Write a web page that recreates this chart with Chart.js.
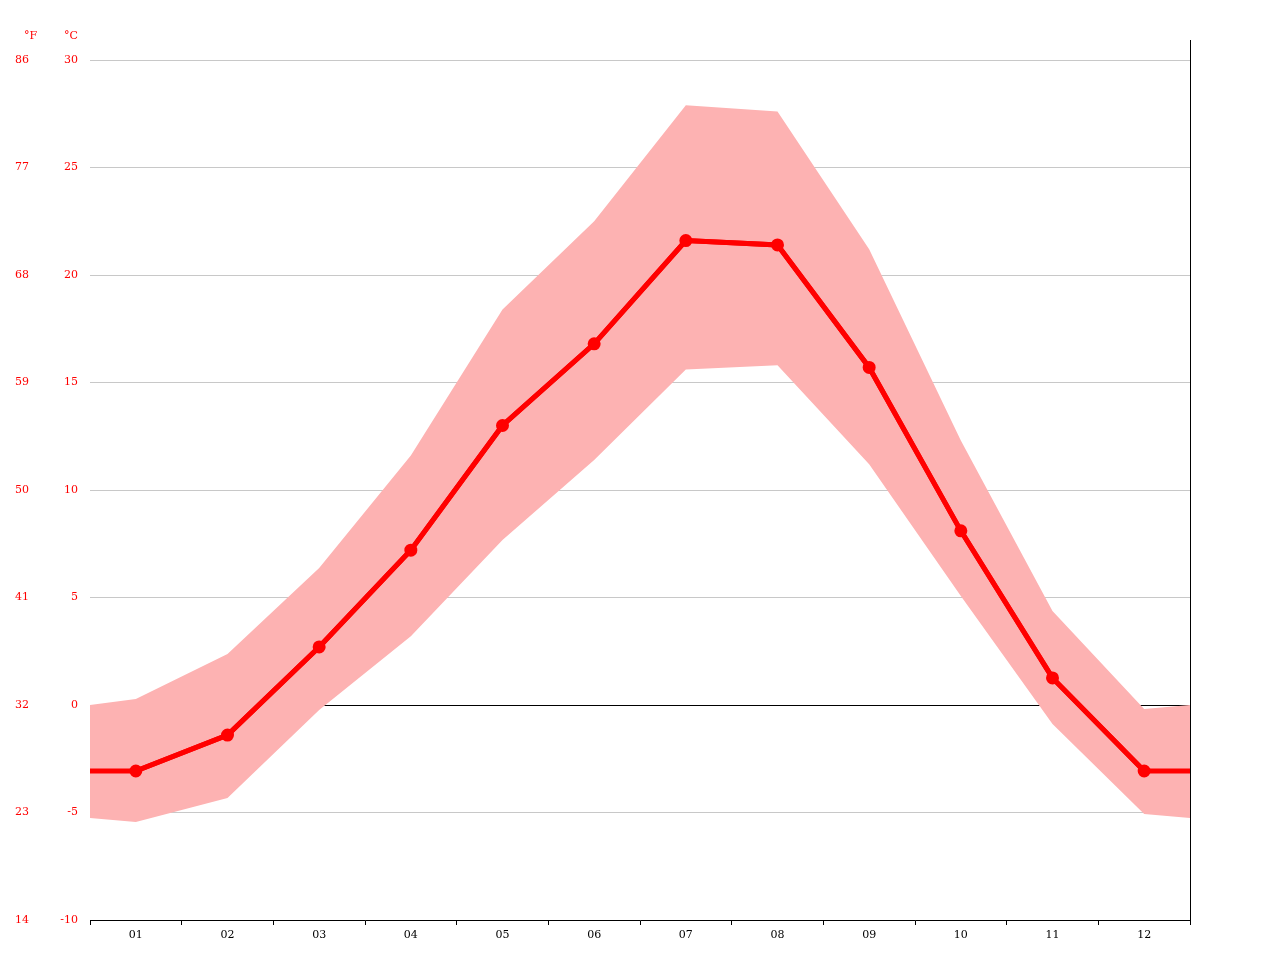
<!DOCTYPE html>
<html><head><meta charset="utf-8">
<script src="https://cdn.jsdelivr.net/npm/chart.js@4/dist/chart.umd.min.js"></script>
<style>html,body{margin:0;background:#fff}#w{width:1280px;height:960px}</style>
</head><body><div id="w"><canvas id="c"></canvas></div>
<script>
const months = ["01","02","03","04","05","06","07","08","09","10","11","12"];
const xPos = [0.5,1,2,3,4,5,6,7,8,9,10,11,12,12.5];
const meanTemp = [-3.07,-3.07,-1.4,2.7,7.2,13.0,16.8,21.6,21.4,15.7,8.1,1.26,-3.07,-3.07];
const maxTemp = [0,0.28,2.37,6.37,11.6,18.4,22.5,27.9,27.6,21.2,12.3,4.37,-0.19,0];
const minTemp = [-5.26,-5.44,-4.33,-0.23,3.2,7.67,11.4,15.6,15.8,11.2,5.07,-0.88,-5.07,-5.26];
const celsiusTicks = [-10,-5,0,5,10,15,20,25,30];
const fahrenheitTicks = [14,23,32,41,50,59,68,77,86];
const pts = a => a.map((v,i)=>({x:xPos[i],y:v}));
const FONT = {family:"DejaVu Serif", size:11};
const extras = {
  id:'extras',
  afterDraw(ch){
    const c=ch.ctx, a=ch.chartArea;
    c.save();
    c.strokeStyle='#000'; c.lineWidth=1;
    c.beginPath(); c.moveTo(a.right+0.5,40); c.lineTo(a.right+0.5,a.bottom); c.stroke();
    c.fillStyle='red'; c.font='11px "DejaVu Serif"'; c.textBaseline='middle';
    c.fillText('°F',24,36); c.fillText('°C',64,36);
    c.restore();
  }
};
new Chart(document.getElementById('c'),{
  type:'line',
  data:{datasets:[
    {yAxisID:'y',data:pts(maxTemp),borderWidth:0,pointRadius:0,backgroundColor:'rgba(253,178,178,1)',fill:'+1',tension:0,order:2},
    {yAxisID:'y',data:pts(minTemp),borderWidth:0,pointRadius:0,fill:false,tension:0,order:2},
    {yAxisID:'y',data:pts(meanTemp).slice(1,13),borderColor:'#ff0000',backgroundColor:'#ff0000',borderWidth:5,pointRadius:4,fill:false,tension:0,order:0},
    {yAxisID:'y',data:pts(meanTemp),borderColor:'#ff0000',borderWidth:5,pointRadius:0,fill:false,tension:0,order:1}
  ]},
  options:{
    responsive:true,maintainAspectRatio:false,animation:false,
    layout:{padding:{top:60,right:90,left:0,bottom:0}},
    plugins:{legend:{display:false},tooltip:{enabled:false}},
    scales:{
      x:{type:'linear',min:0.5,max:12.5,
        afterBuildTicks(s){const t=[];for(let v=0.5;v<=12.5;v+=0.5)t.push({value:v});s.ticks=t;},
        afterFit(s){s.height=40;},
        ticks:{autoSkip:false,maxRotation:0,color:'#000',font:FONT,padding:4,
          callback:v=>Number.isInteger(v)?months[v-1]:''},
        grid:{drawOnChartArea:false,tickLength:5,color:c=>Number.isInteger(c.tick&&c.tick.value)?'rgba(0,0,0,0)':'#000'},
        border:{color:'#000'}},
      y:{position:'left',min:-10,max:30,
        afterBuildTicks(s){s.ticks=celsiusTicks.map(v=>({value:v}));},
        afterFit(s){s.width=45;},
        ticks:{color:'red',font:FONT,padding:12},
        grid:{drawTicks:false,color:c=>c.tick&&c.tick.value===0?'#000':'#c8c8c8'},
        border:{display:false}},
      y2:{position:'left',min:14,max:86,
        afterBuildTicks(s){s.ticks=fahrenheitTicks.map(v=>({value:v}));},
        afterFit(s){s.width=45;},
        ticks:{color:'red',font:FONT,padding:8},
        grid:{display:false},border:{display:false}}
    }
  },
  plugins:[extras]
});
</script></body></html>
